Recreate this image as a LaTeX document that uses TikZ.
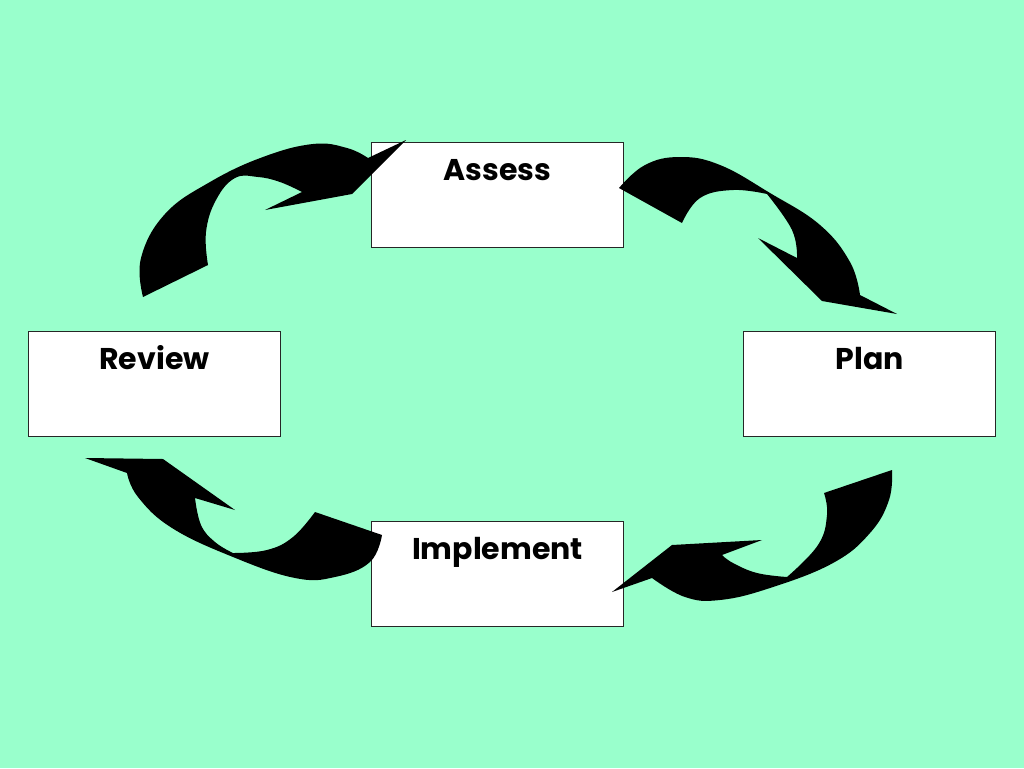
\documentclass[tikz,border=0pt]{standalone}
\usepackage{fontspec}
\setmainfont{Poppins}
\definecolor{bg}{RGB}{153,255,204}
\begin{document}
\begin{tikzpicture}[x=0.75pt,y=-0.75pt,
  box/.style={draw=black!85,line width=0.75pt,fill=white,minimum width=252*0.75pt,minimum height=105*0.75pt,inner sep=0pt,anchor=north west},
  lbl/.style={font=\bfseries\fontsize{22.5}{26}\selectfont,anchor=base,inner sep=0pt},
  arr/.style={fill=black}]
\fill[bg] (0,0) rectangle (1024,768);
\useasboundingbox (0,0) rectangle (1024,768);
% boxes
\node[box] (assess) at (371,142) {};
\node[box] (review) at (28,331) {};
\node[box] (plan) at (743,331) {};
\node[box] (impl) at (371,521) {};
\node[lbl] (tassess) at ([yshift=-38*0.75pt]assess.north) {Assess};
\node[lbl] (treview) at ([yshift=-38*0.75pt]review.north) {Review};
\node[lbl] (tplan) at ([yshift=-38*0.75pt]plan.north) {Plan};
\node[lbl] (timpl) at ([yshift=-38*0.75pt]impl.north) {Implement};
% arrow 1: Review -> Assess
\fill[arr] (143,297) -- plot[smooth,tension=0.7] coordinates {(143,297) (141,258) (165,214) (210,182) (263,157) (313,144) (347,148) (368,158)}
  -- (406,140) -- (352,194) -- (265,210) -- (302,192)
  -- plot[smooth,tension=0.7] coordinates {(302,192) (280,182) (258,177) (235,178) (216,200) (206,232) (208,265)} -- cycle;
% arrow 2: Assess -> Plan
\fill[arr] (619,188) -- plot[smooth,tension=0.7] coordinates {(619,188) (645,165) (680,157) (720,165) (770,193) (820,225) (850,262) (860,295)}
  -- (897,314) -- (822,301) -- (758,238) -- (797,258)
  -- plot[smooth,tension=0.7] coordinates {(797,258) (792,230) (767,194)}
  -- plot[smooth,tension=0.7] coordinates {(767,194) (733,190) (700,198) (682,223)} -- cycle;
% arrow 3: Implement -> Review
\fill[arr] (85,458) -- (163,459) -- (235,510) -- (195,498)
  -- plot[smooth,tension=0.7] coordinates {(195,498) (201,525) (215,542) (233,553)}
  -- plot[smooth,tension=0.7] coordinates {(233,553) (267,550) (293,537) (315,512)}
  -- (382,535)
  -- plot[smooth,tension=0.7] coordinates {(382,535) (370,562) (335,577) (295,578) (233,557) (172,528) (138,497) (127,473)} -- cycle;
% arrow 4: Plan -> Implement
\fill[arr] (892,470) -- (824,493)
  -- plot[smooth,tension=0.7] coordinates {(824,493) (827,515) (818,545) (787,577)}
  -- plot[smooth,tension=0.7] coordinates {(787,577) (757,573) (733,563) (722,555)}
  -- (762,540) -- (672,545) -- (612,592) -- (652,578)
  -- plot[smooth,tension=0.7] coordinates {(652,578) (685,597) (720,600) (770,588) (833,563) (870,533) (889,500) (892,470)} -- cycle;
\end{tikzpicture}
\end{document}
